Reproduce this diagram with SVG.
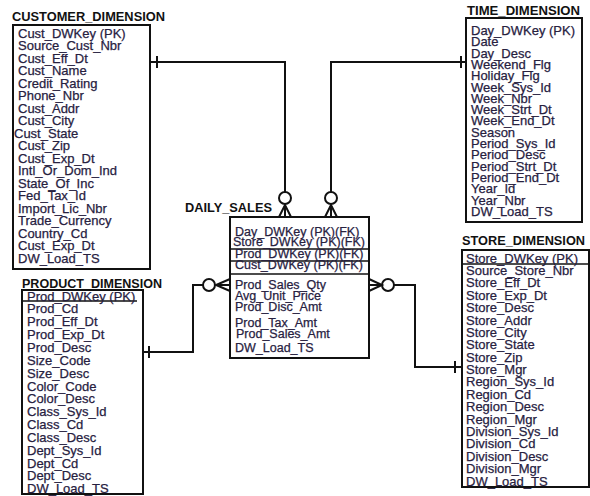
<svg xmlns="http://www.w3.org/2000/svg" width="590" height="496" viewBox="0 0 590 496">
<style>
.bg{fill:#fff}
.box{fill:#fff;stroke:#111;stroke-width:2}
.ln{fill:none;stroke:#111;stroke-width:2}
.sep{stroke:#111;stroke-width:1.5}
.ttl{font-family:"Liberation Sans",Arial,sans-serif;font-weight:bold;font-size:12.5px;fill:#111}
.att{font-family:"Liberation Sans",Arial,sans-serif;font-size:13px;fill:#27213f;stroke:#27213f;stroke-width:0.25}
.ds{font-size:12.5px}
</style>
<defs>
<clipPath id="dsclip"><rect x="231" y="218" width="137" height="139"/></clipPath>
</defs>
<rect class="bg" width="590" height="496"/>

<g id="customer_dimension">
<text class="ttl" x="12" y="21" textLength="153" lengthAdjust="spacingAndGlyphs">CUSTOMER_DIMENSION</text>
<rect class="box" x="13" y="25" width="137" height="244"/>
<text class="att" x="18" y="37.5">Cust_DWKey (PK)</text>
<text class="att" x="18" y="50">Source_Cust_Nbr</text>
<text class="att" x="18" y="62.5">Cust_Eff_Dt</text>
<text class="att" x="18" y="75">Cust_Name</text>
<text class="att" x="18" y="87.5">Credit_Rating</text>
<text class="att" x="18" y="100">Phone_Nbr</text>
<text class="att" x="18" y="112.5">Cust_Addr</text>
<text class="att" x="18" y="125">Cust_City</text>
<text class="att" x="14" y="137.5">Cust_State</text>
<text class="att" x="18" y="150">Cust_Zip</text>
<text class="att" x="18" y="162.5">Cust_Exp_Dt</text>
<text class="att" x="18" y="175">Intl_Or_Dom_Ind</text>
<text class="att" x="18" y="187.5">State_Of_Inc</text>
<text class="att" x="18" y="200">Fed_Tax_Id</text>
<text class="att" x="18" y="212.5">Import_Lic_Nbr</text>
<text class="att" x="18" y="225">Trade_Currency</text>
<text class="att" x="18" y="237.5">Country_Cd</text>
<text class="att" x="18" y="250">Cust_Exp_Dt</text>
<text class="att" x="18" y="262.5">DW_Load_TS</text>
</g>

<g id="time_dimension">
<text class="ttl" x="467" y="15" textLength="113" lengthAdjust="spacingAndGlyphs">TIME_DIMENSION</text>
<rect class="box" x="466" y="18" width="116" height="204"/>
<text class="att" x="471" y="35">Day_DWKey (PK)</text>
<text class="att" x="471" y="46.3">Date</text>
<text class="att" x="471" y="57.6">Day_Desc</text>
<text class="att" x="471" y="68.9">Weekend_Flg</text>
<text class="att" x="471" y="80.2">Holiday_Flg</text>
<text class="att" x="471" y="91.5">Week_Sys_Id</text>
<text class="att" x="471" y="102.8">Week_Nbr</text>
<text class="att" x="471" y="114.1">Week_Strt_Dt</text>
<text class="att" x="471" y="125.4">Week_End_Dt</text>
<text class="att" x="471" y="136.7">Season</text>
<text class="att" x="471" y="148">Period_Sys_Id</text>
<text class="att" x="471" y="159.3">Period_Desc</text>
<text class="att" x="471" y="170.6">Period_Strt_Dt</text>
<text class="att" x="471" y="181.9">Period_End_Dt</text>
<text class="att" x="471" y="193.2">Year_Id</text>
<text class="att" x="471" y="204.5">Year_Nbr</text>
<text class="att" x="471" y="215.8">DW_Load_TS</text>
</g>

<g id="daily_sales">
<text class="ttl" x="185" y="212" textLength="87" lengthAdjust="spacingAndGlyphs">DAILY_SALES</text>
<rect class="box" x="230" y="217" width="139" height="141"/>
<line class="sep" x1="230" y1="249" x2="369" y2="249"/>
<line class="sep" x1="230" y1="261" x2="369" y2="261"/>
<line class="sep" x1="230" y1="274" x2="369" y2="274"/>
<g clip-path="url(#dsclip)">
<text class="att ds" x="235" y="236">Day_DWKey (PK)(FK)</text>
<text class="att ds" x="233" y="246">Store_DWKey (PK)(FK)</text>
<text class="att ds" x="235" y="257.5">Prod_DWKey (PK)(FK)</text>
<text class="att ds" x="235" y="268.5">Cust_DWKey (PK)(FK)</text>
</g>
<text class="att ds" x="235" y="288.5">Prod_Sales_Qty</text>
<text class="att ds" x="235" y="299.5">Avg_Unit_Price</text>
<text class="att ds" x="235" y="311">Prod_Disc_Amt</text>
<text class="att ds" x="235" y="326.5">Prod_Tax_Amt</text>
<text class="att ds" x="236" y="337.5">Prod_Sales_Amt</text>
<text class="att ds" x="235" y="351.5">DW_Load_TS</text>
</g>

<g id="product_dimension">
<text class="ttl" x="22" y="288" textLength="140" lengthAdjust="spacingAndGlyphs">PRODUCT_DIMENSION</text>
<rect class="box" x="22" y="290" width="121" height="204"/>
<line class="sep" x1="22" y1="301" x2="137" y2="301"/>
<text class="att" x="27" y="300.5">Prod_DWKey (PK)</text>
<text class="att" x="27" y="313.4">Prod_Cd</text>
<text class="att" x="27" y="326.2">Prod_Eff_Dt</text>
<text class="att" x="27" y="339.1">Prod_Exp_Dt</text>
<text class="att" x="27" y="351.9">Prod_Desc</text>
<text class="att" x="27" y="364.8">Size_Code</text>
<text class="att" x="27" y="377.6">Size_Desc</text>
<text class="att" x="27" y="390.5">Color_Code</text>
<text class="att" x="27" y="403.3">Color_Desc</text>
<text class="att" x="27" y="416.2">Class_Sys_Id</text>
<text class="att" x="27" y="429">Class_Cd</text>
<text class="att" x="27" y="441.9">Class_Desc</text>
<text class="att" x="27" y="454.7">Dept_Sys_Id</text>
<text class="att" x="27" y="467.6">Dept_Cd</text>
<text class="att" x="27" y="480.4">Dept_Desc</text>
<text class="att" x="27" y="493.3">DW_Load_TS</text>
</g>

<g id="store_dimension">
<text class="ttl" x="462" y="245" textLength="123" lengthAdjust="spacingAndGlyphs">STORE_DIMENSION</text>
<rect class="box" x="462" y="250" width="127" height="237"/>
<line class="sep" x1="462" y1="264" x2="589" y2="264"/>
<text class="att" x="466" y="262.5">Store_DWKey (PK)</text>
<text class="att" x="466" y="274.9">Source_Store_Nbr</text>
<text class="att" x="466" y="287.3">Store_Eff_Dt</text>
<text class="att" x="466" y="299.7">Store_Exp_Dt</text>
<text class="att" x="466" y="312.1">Store_Desc</text>
<text class="att" x="466" y="324.5">Store_Addr</text>
<text class="att" x="466" y="336.8">Store_City</text>
<text class="att" x="466" y="349.2">Store_State</text>
<text class="att" x="466" y="361.6">Store_Zip</text>
<text class="att" x="466" y="374">Store_Mgr</text>
<text class="att" x="466" y="386.4">Region_Sys_Id</text>
<text class="att" x="466" y="398.8">Region_Cd</text>
<text class="att" x="466" y="411.2">Region_Desc</text>
<text class="att" x="466" y="423.6">Region_Mgr</text>
<text class="att" x="466" y="436">Division_Sys_Id</text>
<text class="att" x="466" y="448.4">Division_Cd</text>
<text class="att" x="466" y="460.7">Division_Desc</text>
<text class="att" x="466" y="473.1">Division_Mgr</text>
<text class="att" x="466" y="485.5">DW_Load_TS</text>
</g>

<g id="connectors">
<polyline class="ln" points="150,62 285,62 285,192"/>
<line class="ln" x1="157" y1="56" x2="157" y2="68"/>
<circle class="ln" cx="285" cy="198" r="6"/>
<polyline class="ln" points="279,217 285,205 291,217"/>
<line class="ln" x1="285" y1="205" x2="285" y2="217"/>
<polyline class="ln" points="466,62 331,62 331,192"/>
<line class="ln" x1="461" y1="56" x2="461" y2="68"/>
<circle class="ln" cx="331" cy="198" r="6"/>
<polyline class="ln" points="325,217 331,205 337,217"/>
<line class="ln" x1="331" y1="205" x2="331" y2="217"/>
<polyline class="ln" points="143,352 193,352 193,285 203,285"/>
<line class="ln" x1="149" y1="346" x2="149" y2="358"/>
<circle class="ln" cx="209" cy="285" r="6"/>
<polyline class="ln" points="230,279 216,285 230,291"/>
<line class="ln" x1="216" y1="285" x2="230" y2="285"/>
<polyline class="ln" points="394,285 415,285 415,367 462,367"/>
<line class="ln" x1="455" y1="361" x2="455" y2="373"/>
<circle class="ln" cx="388" cy="285" r="6"/>
<polyline class="ln" points="369,279 382,285 369,291"/>
<line class="ln" x1="369" y1="285" x2="382" y2="285"/>
</g>
</svg>
